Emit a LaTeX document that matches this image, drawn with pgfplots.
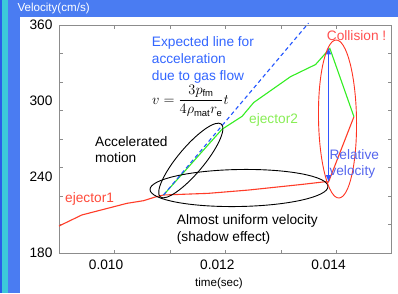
\documentclass[border=0pt]{standalone}
\usepackage{fontspec}
\setmainfont{Liberation Sans}
\usepackage{pgfplots}
\pgfplotsset{compat=1.18}
\usetikzlibrary{arrows.meta}
\definecolor{barblue}{HTML}{4A7CF2}
\definecolor{darkblue}{HTML}{2A5BE8}
\definecolor{stripcyan}{HTML}{3CC8DA}
\definecolor{ejred}{HTML}{FF3C28}
\definecolor{ejredtxt}{HTML}{FF4A3A}
\definecolor{ejgreen}{HTML}{33EE22}
\definecolor{ejgreentxt}{HTML}{88EE55}
\definecolor{dashblue}{HTML}{2255FF}
\definecolor{exptxt}{HTML}{3366FF}
\definecolor{arrowblue}{HTML}{3355FF}
\definecolor{reltxt}{HTML}{5566EE}
\definecolor{colltxt}{HTML}{FF5050}
\definecolor{ellred}{HTML}{FF3322}
\definecolor{axisgray}{HTML}{8C8C8C}
\newcommand{\annfont}{\fontsize{13.7}{16.7}\selectfont}
\begin{document}
\begin{tikzpicture}[x=1pt,y=1pt]
\useasboundingbox (0,0) rectangle (398,293);
\fill[white] (0,0) rectangle (398,293);
\fill[darkblue] (0,0) rectangle (2,293);
\fill[stripcyan] (2,0) rectangle (8.3,293);
\fill[barblue] (8.3,0) rectangle (20,293);
\fill[barblue] (8.3,276.3) rectangle (398,293);
\node[anchor=base west, inner sep=0, text=white, font=\fontsize{11.6}{13}\selectfont] at (17.3,281.3) {Velocity(cm/s)};
\begin{axis}[
  at={(59pt,40pt)}, anchor=south west, scale only axis,
  width=332.7pt, height=228pt,
  xmin=0.009, xmax=0.015, ymin=180, ymax=360,
  clip=false,
  scaled x ticks=false, scaled y ticks=false,
  axis line style={axisgray, line width=0.6pt},
  tick style={axisgray, line width=0.6pt},
  major tick length=3.5pt,
  xtick={0.009,0.010,0.011,0.012,0.013,0.014,0.015},
  xticklabels={},
  ytick={180,202.5,225,247.5,270,292.5,315,337.5,360},
  yticklabels={},
  extra x ticks={0.009849,0.011855,0.013861},
  extra x tick labels={0.010,0.012,0.014},
  extra x tick style={major tick length=0pt},
  extra y ticks={180,240,300,360},
  extra y tick labels={180,240,300,360},
  extra y tick style={major tick length=0pt},
  tick label style={font=\annfont, text=black},
  xticklabel style={yshift=-3pt},
  yticklabel style={xshift=-3pt},
]
\addplot[ejred, line width=1.1pt, mark=none] coordinates {
 (0.009000,201.3) (0.009410,210.0) (0.010224,219.2) (0.010524,221.3)
 (0.010735,224.2) (0.010885,225.8) (0.011693,227.1) (0.012416,229.7)
 (0.013392,234.2) (0.013807,236.3) (0.013860,236.0) (0.014319,287.6)
};
\addplot[ejgreen, line width=1.1pt, mark=none] coordinates {
 (0.010885,225.8) (0.011940,277.7) (0.012302,287.9) (0.012511,298.8)
 (0.013175,319.2) (0.013627,328.8) (0.013885,341.5) (0.014319,287.6)
};
\addplot[dashblue, line width=1.1pt, dash pattern=on 4pt off 3pt, mark=none] coordinates {
 (0.010885,225.8) (0.013500,361.5)
};
\draw[arrowblue, line width=1.5pt, {Latex[length=7pt,width=6pt]}-{Latex[length=7pt,width=6pt]}]
  (axis cs:0.01386,342.3) -- (axis cs:0.01386,236.0);
\end{axis}
% ellipses
\draw[black, line width=0.9pt, rotate around={50:(190.8,132.5)}] (190.8,132.5) ellipse [x radius=47.5, y radius=13];
\draw[black, line width=0.9pt, rotate around={1:(239,105)}] (239,105) ellipse [x radius=89, y radius=18.5];
\draw[ellred, line width=0.9pt, rotate around={1:(337.5,174)}] (337.5,174) ellipse [x radius=19, y radius=79];
% texts
\node[font=\fontsize{11.6}{13}\selectfont] at (219,10) {time(sec)};
\node[anchor=base west, inner sep=0, text=exptxt, font=\annfont] at (151.7,246.3) {Expected line for};
\node[anchor=base west, inner sep=0, text=exptxt, font=\annfont] at (151.7,229.7) {acceleration};
\node[anchor=base west, inner sep=0, text=exptxt, font=\annfont] at (151.7,213.0) {due to gas flow};
\node[anchor=base west, inner sep=0, font=\fontsize{13.5}{16}\selectfont] at (152,189) {$v=\displaystyle\frac{3p_{\mathrm{fm}}}{4\rho_{\mathrm{mat}}r_{\mathrm{e}}}t$};
\node[anchor=base west, inner sep=0, font=\annfont] at (95,146.3) {Accelerated};
\node[anchor=base west, inner sep=0, font=\annfont] at (95,130.1) {motion};
\node[anchor=base west, inner sep=0, text=ejgreentxt, font=\annfont] at (249,169.9) {ejector2};
\node[anchor=base west, inner sep=0, text=ejredtxt, font=\annfont] at (65,90.5) {ejector1};
\node[anchor=base west, inner sep=0, font=\annfont] at (176.7,68.2) {Almost uniform velocity};
\node[anchor=base west, inner sep=0, font=\annfont] at (176.7,51.5) {(shadow effect)};
\node[anchor=base west, inner sep=0, text=colltxt, font=\annfont] at (326.7,252.3) {Collision !};
\node[anchor=base west, inner sep=0, text=reltxt, font=\annfont] at (329.3,133.7) {Relative};
\node[anchor=base west, inner sep=0, text=reltxt, font=\annfont] at (329.3,117.5) {velocity};
\end{tikzpicture}
\end{document}
